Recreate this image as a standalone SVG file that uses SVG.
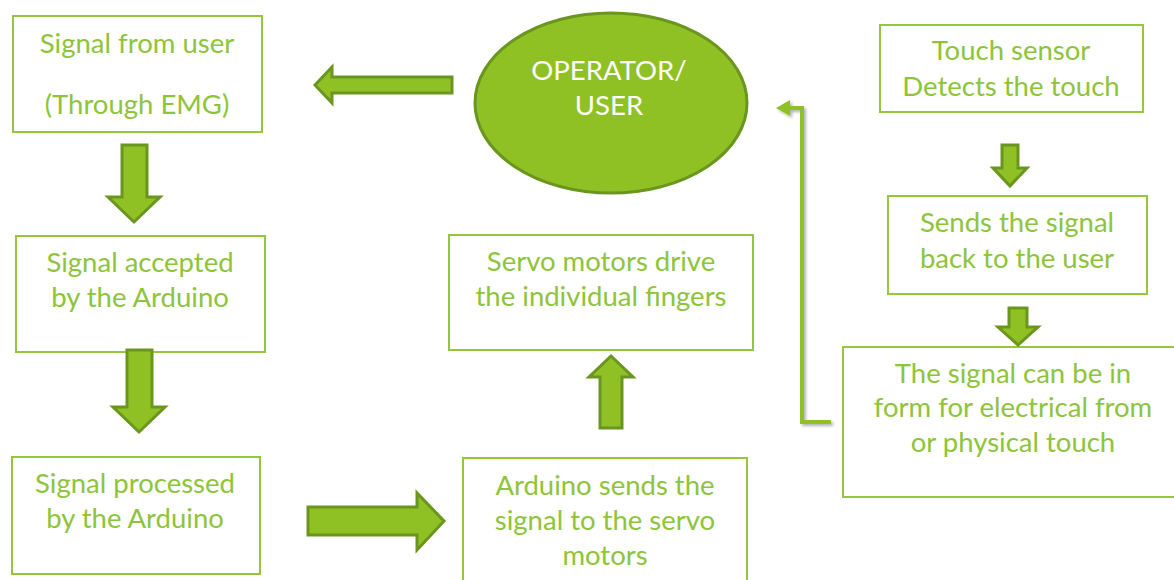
<svg xmlns="http://www.w3.org/2000/svg" width="1174" height="580" viewBox="0 0 1174 580">
<defs>
<style>
.box{fill:#ffffff;stroke:#94c73c;stroke-width:2}
.t{font-family:"Lato","Liberation Sans",sans-serif;font-size:27.5px;fill:#8dc43a;text-anchor:middle}
.w{font-family:"Lato","Liberation Sans",sans-serif;font-size:27.5px;fill:#ffffff;text-anchor:middle}
.blk{fill:#8fc125;stroke:#6a951e;stroke-width:3;stroke-linejoin:miter}
.ln{fill:none;stroke:#8fc125;stroke-width:4}
</style>
<filter id="sh" x="-20%" y="-20%" width="140%" height="140%">
<feDropShadow dx="2" dy="2" stdDeviation="1.5" flood-color="#000" flood-opacity="0.3"/>
</filter>
</defs>
<rect width="1174" height="580" fill="#ffffff"/>

<g id="n-signal-user">
<rect class="box" x="13" y="16" width="249" height="116"/>
<text class="t" x="137" y="53">Signal from user</text>
<text class="t" x="137" y="114">(Through EMG)</text>
</g>
<g id="n-accepted">
<rect class="box" x="16" y="236" width="249" height="116"/>
<text class="t" x="140" y="272">Signal accepted</text>
<text class="t" x="140" y="307">by the Arduino</text>
</g>
<g id="n-processed">
<rect class="box" x="12" y="457" width="248" height="117"/>
<text class="t" x="135" y="493">Signal processed</text>
<text class="t" x="135" y="528">by the Arduino</text>
</g>
<g id="n-sends">
<rect class="box" x="463" y="458" width="284" height="130"/>
<text class="t" x="605" y="495">Arduino sends the</text>
<text class="t" x="605" y="530">signal to the servo</text>
<text class="t" x="605" y="565">motors</text>
</g>
<g id="n-servo">
<rect class="box" x="449" y="235" width="304" height="115"/>
<text class="t" x="601" y="271">Servo motors drive</text>
<text class="t" x="601" y="306">the individual fingers</text>
</g>
<g id="n-operator">
<ellipse cx="611" cy="103" rx="136" ry="90" fill="#8fc125" stroke="#6a951e" stroke-width="3"/>
<text class="w" x="609" y="80">OPERATOR/</text>
<text class="w" x="609" y="115">USER</text>
</g>
<g id="n-touch">
<rect class="box" x="880" y="25" width="263" height="87"/>
<text class="t" x="1011" y="60">Touch sensor</text>
<text class="t" x="1011" y="96">Detects the touch</text>
</g>
<g id="n-back">
<rect class="box" x="888" y="196" width="259" height="98"/>
<text class="t" x="1017" y="232">Sends the signal</text>
<text class="t" x="1017" y="268">back to the user</text>
</g>
<g id="n-form">
<rect class="box" x="843" y="347" width="340" height="150"/>
<text class="t" x="1013" y="383">The signal can be in</text>
<text class="t" x="1013" y="417">form for electrical from</text>
<text class="t" x="1013" y="452">or physical touch</text>
</g>

<g id="connectors">
<polygon class="blk" points="452,77 332,77 332,67 315,85 332,103 332,93 452,93"/>
<polygon class="blk" points="122,145 147,145 147,197 160,197 134,222 108,197 122,197"/>
<polygon class="blk" points="127,350 152,350 152,407 165,407 139,432 113,407 127,407"/>
<polygon class="blk" points="308,507 417,507 417,493 444,521 417,550 417,535 308,535"/>
<polygon class="blk" points="600,428 622,428 622,377 633,377 611,356 589,377 600,377"/>
<polygon class="blk" points="1002,145 1018,145 1018,168 1027,168 1010,186 993,168 1002,168"/>
<polygon class="blk" points="1009,308 1027,308 1027,327 1038,327 1018,345 998,327 1009,327"/>
<g filter="url(#sh)">
<polyline class="ln" points="831,422 802,422 802,108 788,108"/>
<polygon points="776,108 790,100 790,116" fill="#8fc125"/>
</g>
</g>
</svg>
